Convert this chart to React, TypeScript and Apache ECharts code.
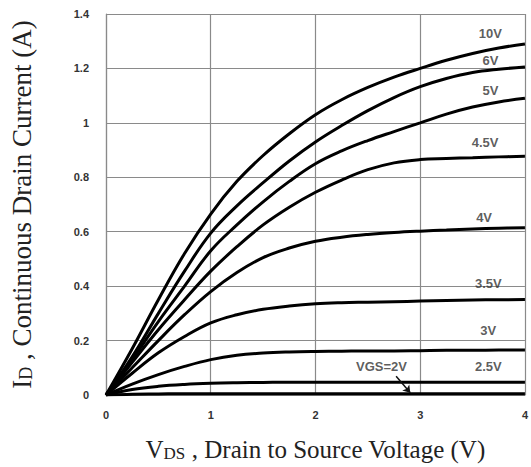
import React, { useEffect, useRef } from "react";
import * as echarts from "echarts";

const vds = [0, 0.25, 0.5, 0.75, 1, 1.25, 1.5, 1.75, 2, 2.25, 2.5, 2.75, 3, 3.25, 3.5, 3.75, 4];

const id10V = [0, 0.17, 0.35, 0.52, 0.665, 0.785, 0.88, 0.96, 1.03, 1.085, 1.13, 1.168, 1.2, 1.23, 1.255, 1.275, 1.29];
const id6V = [0, 0.14, 0.3, 0.455, 0.595, 0.695, 0.78, 0.86, 0.93, 0.99, 1.045, 1.093, 1.133, 1.163, 1.185, 1.197, 1.205];
const id5V = [0, 0.13, 0.27, 0.4, 0.53, 0.625, 0.71, 0.785, 0.85, 0.897, 0.935, 0.968, 1.0, 1.032, 1.058, 1.077, 1.09];
const id45V = [0, 0.12, 0.24, 0.35, 0.455, 0.545, 0.625, 0.69, 0.745, 0.79, 0.828, 0.853, 0.865, 0.869, 0.872, 0.875, 0.877];
const id4V = [0, 0.1, 0.2, 0.295, 0.38, 0.45, 0.505, 0.54, 0.565, 0.58, 0.59, 0.597, 0.602, 0.606, 0.61, 0.613, 0.615];
const id35V = [0, 0.08, 0.155, 0.215, 0.265, 0.295, 0.315, 0.327, 0.335, 0.339, 0.341, 0.343, 0.345, 0.347, 0.349, 0.35, 0.351];
const id3V = [0, 0.04, 0.075, 0.105, 0.13, 0.146, 0.154, 0.158, 0.16, 0.161, 0.162, 0.162, 0.163, 0.164, 0.164, 0.165, 0.165];
const id25V = [0, 0.02, 0.032, 0.039, 0.043, 0.045, 0.046, 0.047, 0.047, 0.047, 0.047, 0.047, 0.047, 0.047, 0.047, 0.047, 0.047];
const id2V = [0, 0.003, 0.004, 0.005, 0.005, 0.005, 0.005, 0.005, 0.005, 0.005, 0.005, 0.005, 0.005, 0.005, 0.005, 0.005, 0.005];

const curves = [id10V, id6V, id5V, id45V, id4V, id35V, id3V, id25V, id2V];

const labelNames = ["10V", "6V", "5V", "4.5V", "4V", "3.5V", "3V", "2.5V", "VGS=2V"];
const labelX = [3.67, 3.67, 3.67, 3.62, 3.61, 3.65, 3.65, 3.65, 2.63];
const labelY = [1.328, 1.23, 1.12, 0.927, 0.653, 0.409, 0.237, 0.106, 0.106];

const arrowFrom = [2.77, 0.069];
const arrowTo = [2.905, 0.008];

const xTicks = { min: 0, max: 4, interval: 1 };
const yTicks = { min: 0, max: 1.4, interval: 0.2 };

export default function App() {
  const ref = useRef<HTMLDivElement>(null);
  useEffect(() => {
    if (!ref.current) return;
    const chart = echarts.init(ref.current, null, { renderer: "svg" });
    const gridColor = "#8a8a8a";
    const series: any[] = curves.map((c, i) => ({
      type: "line",
      data: vds.map((x, j) => [x, c[j]]),
      smooth: 0.4,
      showSymbol: false,
      symbol: "none",
      lineStyle: { color: "#000", width: 3 },
      z: 3,
      ...(i === curves.length - 1
        ? {
            markLine: {
              silent: true,
              symbol: ["none", "arrow"],
              symbolSize: 7,
              label: { show: false },
              lineStyle: { color: "#111", width: 1.5, type: "solid" },
              data: [[{ coord: arrowFrom }, { coord: arrowTo }]],
            },
          }
        : {}),
    }));
    series.push({
      type: "scatter",
      data: labelNames.map((n, i) => ({ name: n, value: [labelX[i], labelY[i]] })),
      symbolSize: 1,
      itemStyle: { color: "rgba(0,0,0,0)" },
      label: {
        show: true,
        position: "inside",
        formatter: "{b}",
        color: "#333",
        fontFamily: "Liberation Sans",
        fontWeight: "bold",
        fontSize: 13,
      },
      z: 5,
    });
    const richName = (size: number, sub: number) => ({
      a: { fontFamily: "Liberation Serif", fontSize: size, color: "#222", lineHeight: 32, verticalAlign: "bottom" },
      s: { fontFamily: "Liberation Serif", fontSize: sub, color: "#222", lineHeight: 22, verticalAlign: "bottom" },
    });
    chart.setOption({
      animation: false,
      backgroundColor: "#fff",
      grid: { left: 104, right: 3, top: 14, bottom: 70 },
      xAxis: {
        type: "value",
        ...xTicks,
        name: "{a|V}{s|DS}{a| , Drain to Source Voltage (V)}",
        nameLocation: "middle",
        nameGap: 35,
        nameTextStyle: { rich: richName(25, 17) },
        axisLine: { show: true, lineStyle: { color: gridColor, width: 1.2 } },
        axisTick: { show: false },
        axisLabel: { color: "#333", fontFamily: "Liberation Sans", fontWeight: "bold", fontSize: 11, margin: 14 },
        splitLine: { show: true, lineStyle: { color: gridColor, width: 1.2 } },
      },
      yAxis: {
        type: "value",
        ...yTicks,
        name: "{a|I}{s|D}{a| , Continuous Drain Current (A)}",
        nameLocation: "middle",
        nameGap: 71,
        nameTruncate: { maxWidth: 1000 },
        nameTextStyle: { rich: richName(27, 18), overflow: "none", width: 1000 },
        axisLine: { show: true, lineStyle: { color: gridColor, width: 1.2 } },
        axisTick: { show: false },
        axisLabel: { color: "#333", fontFamily: "Liberation Sans", fontWeight: "bold", fontSize: 11, margin: 17 },
        splitLine: { show: true, lineStyle: { color: gridColor, width: 1.2 } },
      },
      series,
    });
    return () => chart.dispose();
  }, []);
  return (
    <div
      ref={ref}
      style={{ position: "fixed", left: 0, top: 0, width: 531, height: 467, background: "#fff" }}
    />
  );
}
